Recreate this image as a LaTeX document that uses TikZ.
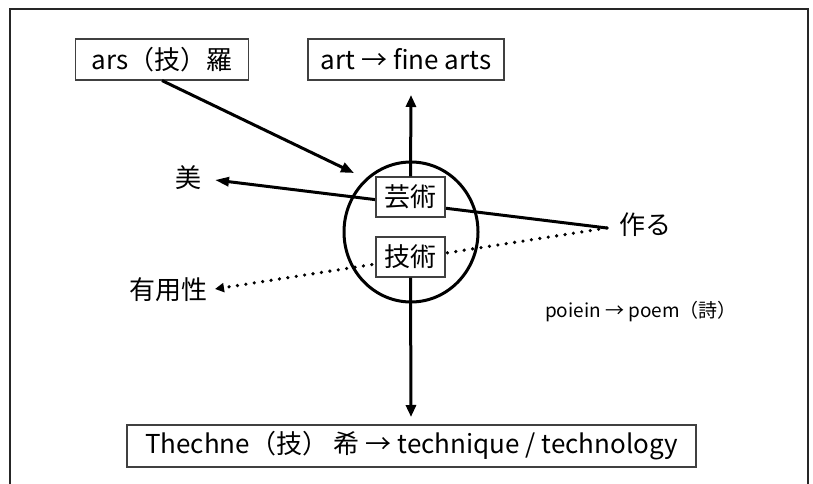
\documentclass[tikz,border=0pt]{standalone}
\usepackage{fontspec}
\setmainfont{Noto Sans CJK JP}
\usetikzlibrary{arrows.meta}
\tikzset{
  lbox/.style={draw=black!75, line width=1.1pt, fill=white, inner sep=0pt, align=center, font=\fontsize{26}{30}\selectfont},
  thk/.style={line width=3pt, black},
  tip/.style={-{Triangle[length=12pt,width=10pt]}},
  lbl/.style={inner sep=0pt, font=\fontsize{26}{30}\selectfont},
}
\begin{document}
\begin{tikzpicture}[x=1pt,y=-1pt]
\useasboundingbox (0,0) rectangle (813,484);
\draw[line width=1.3pt, black!85] (10,495) -- (10,9) -- (808,9) -- (808,495);
% circle
\draw[line width=3pt] (411,232) ellipse [x radius=67, y radius=70];
% coordinates
\coordinate (make) at (607,228);
\coordinate (bitip) at (215,180);
\coordinate (yutip) at (215,289);
\coordinate (arstip) at (354,173);
\coordinate (arttip) at (411,95);
\coordinate (thtip) at (411,417);
% nodes
\node[lbox, minimum width=173pt, minimum height=41pt] (ars) at (162,59.5) {ars（技）羅};
\node[lbox, minimum width=196pt, minimum height=41pt] (art) at (406,59.5) {art → fine arts};
\node[lbox, minimum width=569pt, minimum height=42pt] (th) at (411.5,446) {Thechne（技） 希 → technique / technology};
\node[lbl] (bi) at (188,178) {美};
\node[lbl] (yu) at (168,290) {有用性};
\node[lbl] (tsu) at (645,225) {作る};
\node[inner sep=0pt, font=\fontsize{19}{22}\selectfont] (po) at (641,312) {poiein → poem（詩）};
% connectors
\draw[thk, -{Triangle[length=14pt,width=9pt]}] (make) -- (bitip);
\draw[line width=3.6pt, line cap=round, dash pattern=on 0pt off 8.5pt, -{Triangle[length=9pt,width=9pt]}] (make) -- (yutip);
\draw[thk, -{Triangle[length=13pt,width=10pt]}] (ars.south) -- (arstip);
% center boxes
\node[lbox, minimum width=69pt, minimum height=40pt] (gei) at (410.5,197) {芸術};
\node[lbox, minimum width=69pt, minimum height=40pt] (gi) at (410.5,257) {技術};
\draw[thk, tip] (gei.north) -- (arttip);
\draw[thk, tip] (gi.south) -- (thtip);
\end{tikzpicture}
\end{document}
